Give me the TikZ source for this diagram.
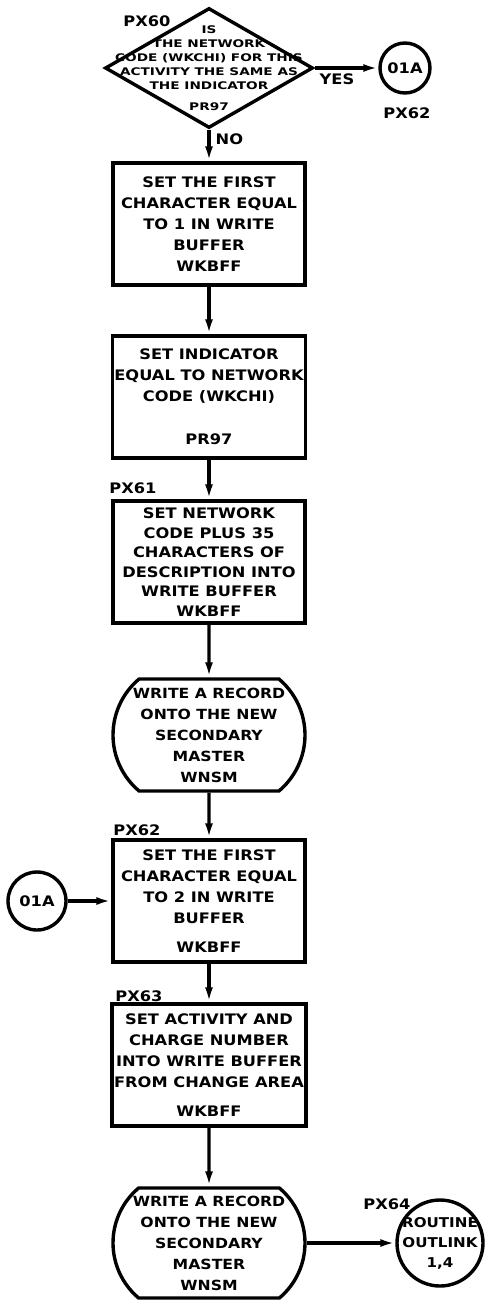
\documentclass[tikz,border=0pt]{standalone}
\usepackage{fontspec}
\setmainfont{DejaVu Sans}[FakeStretch=1.12]
\newfontfamily\askfamily{DejaVu Sans}[FakeStretch=1.3]
\usetikzlibrary{shapes.geometric,shapes.misc,arrows.meta}

\newcommand{\chartfont}{\fontsize{14.5}{21}\selectfont\bfseries}
\tikzset{
  stepbox/.style={draw, rectangle, minimum width=192pt, minimum height=122pt,
    inner sep=2pt, align=center, font=\chartfont},
  term/.style={draw, rounded rectangle, rounded rectangle arc length=100,
    minimum width=192pt, minimum height=112pt, inner sep=0pt, align=center,
    font=\fontsize{14}{21}\selectfont\bfseries},
  decision/.style={draw, diamond, minimum width=208pt, minimum height=120pt,
    inner sep=0pt},
  asktext/.style={align=center, inner sep=0pt,
    font=\askfamily\fontsize{10.5}{14}\selectfont\bfseries},
  conn/.style={draw, circle, minimum size=50pt, inner sep=0pt, align=center,
    font=\chartfont},
  tag/.style={inner sep=1pt, font=\fontsize{14.5}{18}\selectfont\bfseries}
}

\begin{document}
\begin{tikzpicture}[x=1pt, y=-1pt, line width=3.4pt,
    >={Latex[length=15pt,width=8pt]}]
\useasboundingbox (0,0) rectangle (497,1301);

% test on the network code
\node[decision] (px60) at (209,68) {};
\node[asktext] (ask60) at (px60.center) {IS\\THE NETWORK\\CODE (WKCHI) FOR THIS\\ACTIVITY THE SAME AS\\THE INDICATOR\\[7pt]PR97};
\node[tag] (lbl60) at (147,21) {PX60};
\node[conn] (go01a) at (405,68) {01A};
\node[tag] (lbl62a) at (407,113) {PX62};

% main column
\node[stepbox] (first1) at (209,224) {SET THE FIRST\\CHARACTER EQUAL\\TO 1 IN WRITE\\BUFFER\\WKBFF};
\node[stepbox] (setind) at (209,397) {SET INDICATOR\\EQUAL TO NETWORK\\CODE (WKCHI)\\[22pt]PR97};
\node[tag] (lbl61) at (133,488) {PX61};
\node[stepbox, font=\fontsize{14.5}{19.5}\selectfont\bfseries] (netcode) at (209,562) {SET NETWORK\\CODE PLUS 35\\CHARACTERS OF\\DESCRIPTION INTO\\WRITE BUFFER\\WKBFF};
\node[term] (write1) at (209,735) {WRITE A RECORD\\ONTO THE NEW\\SECONDARY\\MASTER\\WNSM};
\node[tag] (lbl62) at (137,830) {PX62};
\node[stepbox] (first2) at (209,901) {SET THE FIRST\\CHARACTER EQUAL\\TO 2 IN WRITE\\BUFFER\\[8pt]WKBFF};
\node[conn, minimum size=58pt] (in01a) at (37,901) {01A};
\node[tag] (lbl63) at (139,996) {PX63};
\node[stepbox] (actchg) at (209,1065) {SET ACTIVITY AND\\CHARGE NUMBER\\INTO WRITE BUFFER\\FROM CHANGE AREA\\[8pt]WKBFF};
\node[term, minimum height=110pt] (write2) at (209,1243) {WRITE A RECORD\\ONTO THE NEW\\SECONDARY\\MASTER\\WNSM};
\node[tag] (lbl64) at (387,1204) {PX64};
\node[conn, minimum size=86pt, inner sep=-7pt, font=\fontsize{13.5}{20}\selectfont\bfseries] (outlink) at (440,1243) {ROUTINE\\OUTLINK\\1,4};

% flow lines
\draw[->] (px60) -- node[tag, pos=0.3, right=4pt] {NO} (first1);
\draw[->] (px60) -- node[tag, pos=0.35, below=3pt] {YES} (go01a);
\draw[->] (first1) -- (setind);
\draw[->] (setind) -- (netcode);
\draw[->] (netcode) -- (write1);
\draw[->] (write1) -- (first2);
\draw[->] (in01a) -- (first2);
\draw[->] (first2) -- (actchg);
\draw[->] (actchg) -- (write2);
\draw[->] (write2) -- (outlink);
\end{tikzpicture}
\end{document}
